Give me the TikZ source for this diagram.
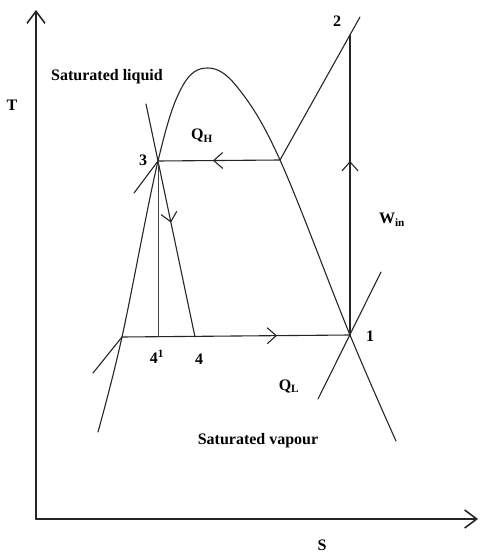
\documentclass[tikz,border=0pt]{standalone}
\usepackage{fontspec}
\setmainfont{Liberation Serif}
\usetikzlibrary{arrows.meta,decorations.markings}
\tikzset{
  ts diagram/.style={x=1pt, y=-1pt, line cap=round, line join=round,
    font=\bfseries\fontsize{16}{18}\selectfont},
  ts axis/.style={draw=black!85, line width=1.6pt,
    -{Straight Barb[length=12pt,width=18pt]}},
  ts line/.style={draw=black!85, line width=1.1pt},
  ts thin/.style={draw=black!75, line width=0.6pt},
  ts flow/.style={ts line, postaction={decorate}, decoration={markings,
    mark=at position #1 with {\arrow{Straight Barb[length=9pt,width=16pt]}}}},
  ts label/.style={inner sep=1pt}
}
\begin{document}
\begin{tikzpicture}[ts diagram]
\useasboundingbox (0,0) rectangle (479,553);
% axes
\coordinate (O) at (36,519);
\coordinate (Ttop) at (36,10);
\coordinate (Sright) at (478,519);
\draw[ts axis] (O) -- (Ttop);
\draw[ts axis] (O) -- (Sright);
% state points
\coordinate (p1) at (350,335);
\coordinate (p2) at (350,35);
\coordinate (p2 end) at (360,17);
\coordinate (p3) at (158,161);
\coordinate (p4) at (195,337);
\coordinate (p4 prime) at (158,337);
\coordinate (pL) at (122,337);
\coordinate (pV) at (280,160);
\coordinate (sl top) at (146,104);
\coordinate (p3 tail) at (134,193);
\coordinate (pL tail) at (93,373);
\coordinate (p1 low) at (318,399);
\coordinate (p1 high) at (381,272);
% saturation dome
\draw[ts line] plot[smooth,tension=0.6] coordinates
  {(98,432) (pL) (p3) (182,87) (208,68) (238,88) (pV) (p1) (396,441)};
% cycle
\draw[ts flow=0.55] (pV) -- (p3);
\draw[ts flow=0.68] (pL) -- (p1);
\draw[ts flow=0.58] (p1) -- (p2);
\draw[ts flow=0.35] (p3) -- (p4);
\draw[ts line] (pV) -- (p2 end);
\draw[ts line] (sl top) -- (p3);
\draw[ts line] (p3 tail) -- (p3);
\draw[ts line] (pL tail) -- (pL);
\draw[ts line] (p1 low) -- (p1 high);
\draw[ts thin] (p3) -- (p4 prime);
% labels
\node[ts label] (lbl T) at (12,105) {T};
\node[ts label] (lbl S) at (322,545) {S};
\node[ts label] (sat liq) at (107,77) {Saturated liquid};
\node[ts label] (sat vap) at (258,441) {Saturated vapour};
\node[ts label] (lbl QH) at (202,136) {Q\textsubscript{H}};
\node[ts label] (lbl 3) at (143,160) {3};
\node[ts label] (lbl 2) at (337,21) {2};
\node[ts label] (lbl Win) at (392,220) {W\textsubscript{in}};
\node[ts label] (lbl 1) at (370,336) {1};
\node[ts label] (lbl 4p) at (157,357) {4\textsuperscript{1}};
\node[ts label] (lbl 4) at (199,359) {4};
\node[ts label] (lbl QL) at (289,386) {Q\textsubscript{L}};
\end{tikzpicture}
\end{document}
